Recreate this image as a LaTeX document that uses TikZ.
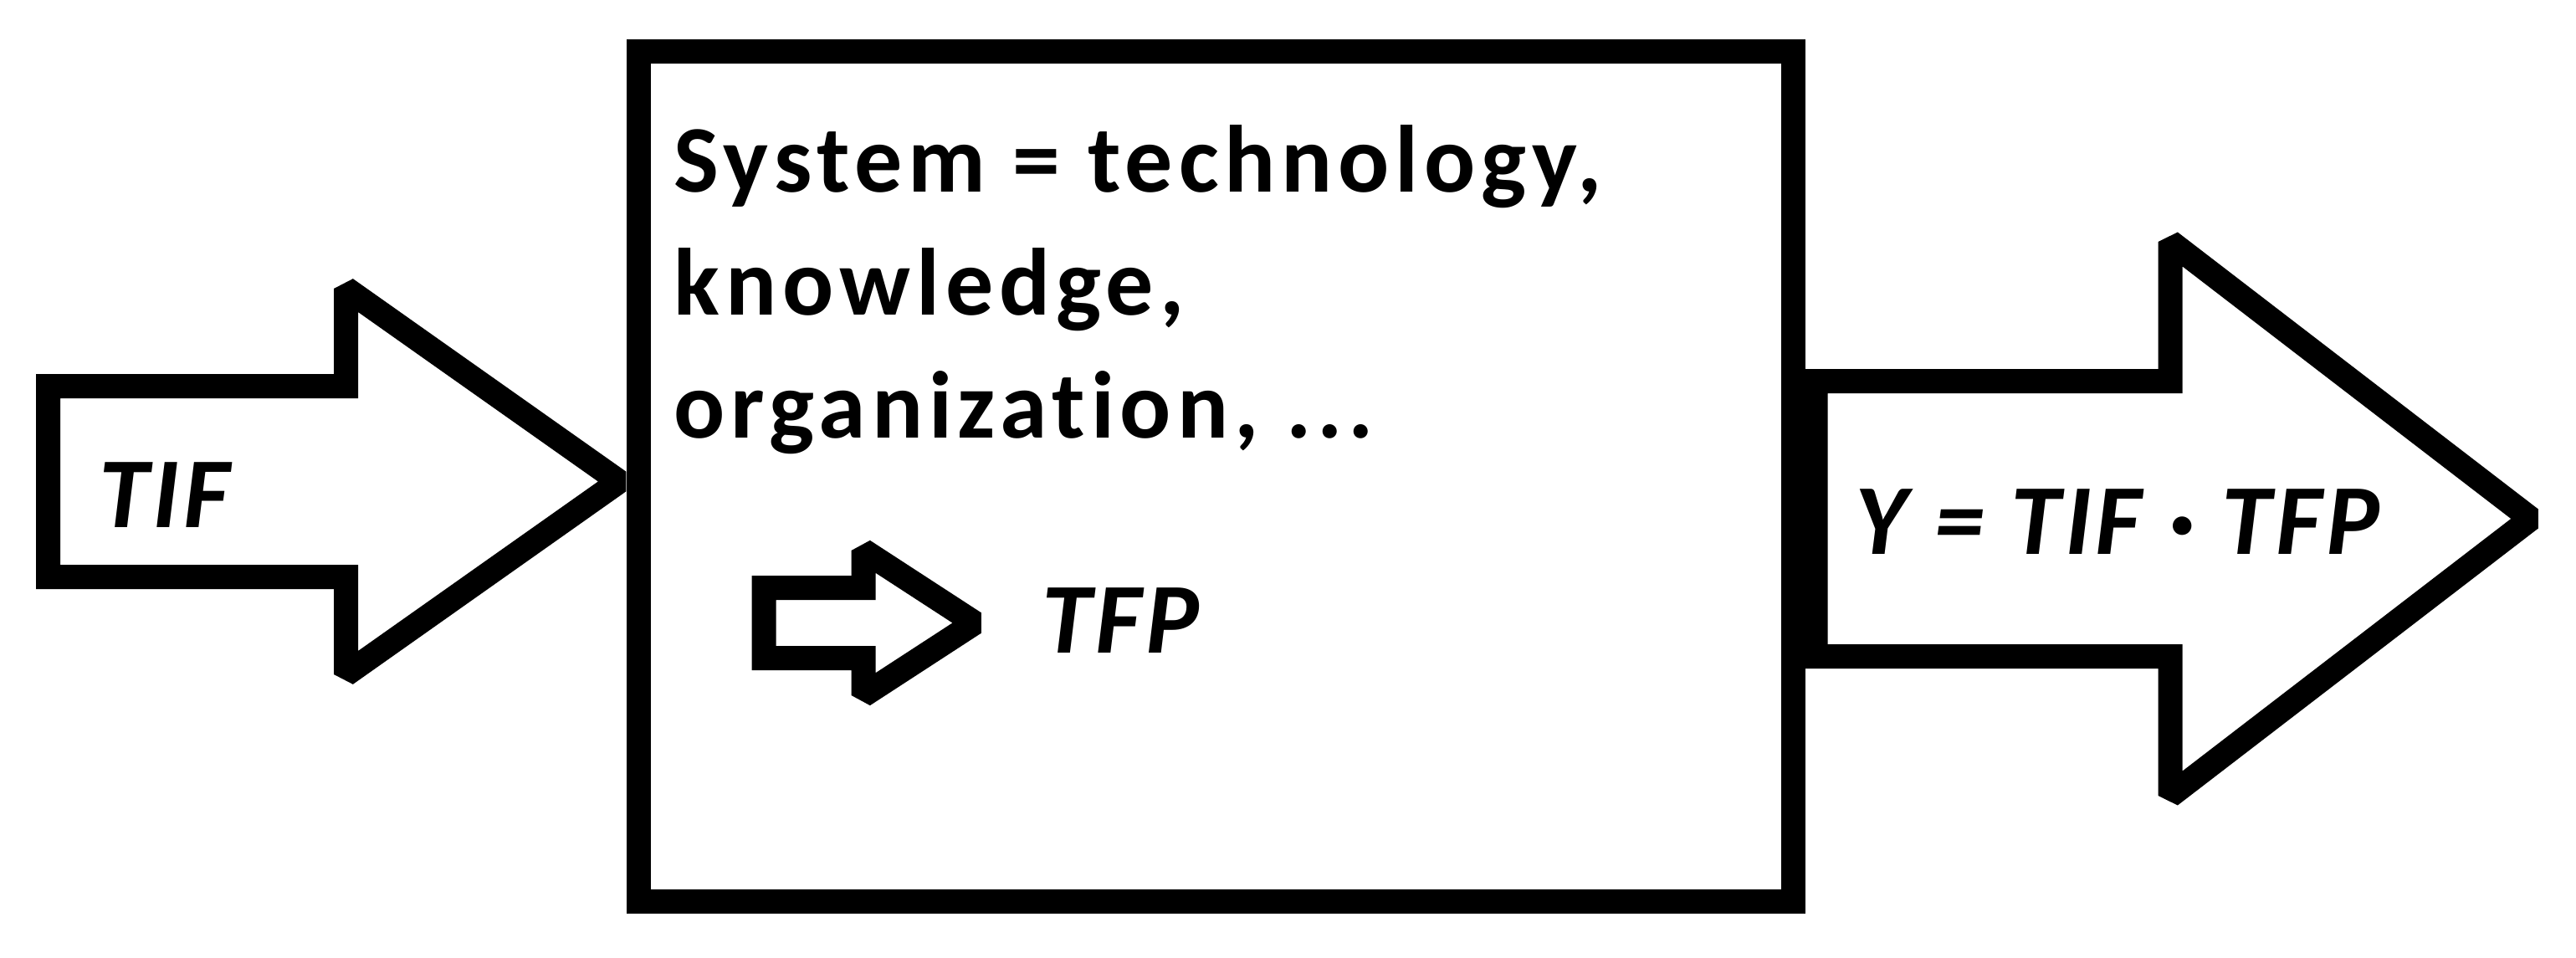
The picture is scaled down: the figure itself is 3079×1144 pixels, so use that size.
\documentclass[tikz,border=0pt]{standalone}
\usepackage{fontspec}
\setmainfont{Carlito}
\newfontfamily\lblfont{Carlito}[LetterSpace=6,Ligatures=NoCommon]
\newfontfamily\mathlblfont{Carlito}[LetterSpace=4,Ligatures=NoCommon]
\begin{document}
\begin{tikzpicture}[x=0.25pt,y=-0.25pt,
  outline/.style={draw=black,line width=7.25pt,line join=miter,miter limit=1.6},
  txt/.style={inner sep=0pt,anchor=base west,font=\lblfont\bfseries\fontsize{28.5}{34}\selectfont},
  itxt/.style={inner sep=0pt,anchor=base west,font=\mathlblfont\bfseries\itshape\fontsize{30}{36}\selectfont}]
\useasboundingbox[fill=white] (0,0) rectangle (3079,1144);
% main box
\node[outline,minimum width=345pt,minimum height=254pt,inner sep=0pt] (box) at (1453.5,569.5) {};
% input arrow
\draw[outline] (57.5,461.5) -- (413.5,461.5) -- (413.5,345) -- (740,575.5)
  -- (413.5,806) -- (413.5,689.5) -- (57.5,689.5) -- cycle;
% output arrow
\draw[outline] (2170,455.5) -- (2594,455.5) -- (2594,289) -- (3025,620)
  -- (2594,951) -- (2594,784.5) -- (2170,784.5) -- cycle;
% small inner arrow
\draw[outline] (913,702.5) -- (1032,702.5) -- (1032,658) -- (1165,744.5)
  -- (1032,831) -- (1032,786.5) -- (913,786.5) -- cycle;
% texts
\node[txt] (sys1) at (805,230) {System = technology,};
\node[txt] (sys2) at (805,376.5) {knowledge,};
\node[txt] (sys3) at (805,523) {organization, ...};
\node[itxt] (tif) at (118,630) {TIF};
\node[itxt] (tfp) at (1245,780) {TFP};
\node[itxt] (yeq) at (2217,662) {Y = TIF · TFP};
\end{tikzpicture}
\end{document}
